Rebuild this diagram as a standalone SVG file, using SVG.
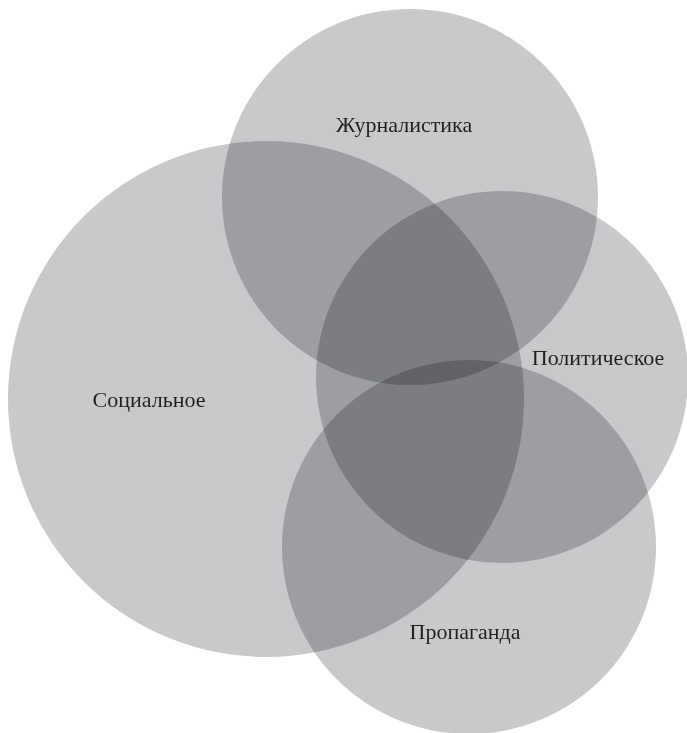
<svg xmlns="http://www.w3.org/2000/svg" width="687" height="733" viewBox="0 0 687 733">
<style>
.c{fill:#c8c9cb;mix-blend-mode:multiply}
.t{font-family:"Liberation Serif","Times New Roman",serif;font-size:22px;fill:#231f20;text-anchor:middle}
</style>
<rect width="687" height="733" fill="#fff"/>
<g style="isolation:isolate">
<g id="social"><circle class="c" cx="266" cy="399" r="258"/></g>
<g id="journalism"><circle class="c" cx="410" cy="197" r="188"/></g>
<g id="political"><circle class="c" cx="502" cy="377" r="186"/></g>
<g id="propaganda"><circle class="c" cx="469" cy="547" r="187"/></g>
</g>
<g id="connectors"/>
<text class="t" x="404" y="132">Журналистика</text>
<text class="t" x="598" y="365">Политическое</text>
<text class="t" x="149" y="407">Социальное</text>
<text class="t" x="465" y="639">Пропаганда</text>
</svg>
